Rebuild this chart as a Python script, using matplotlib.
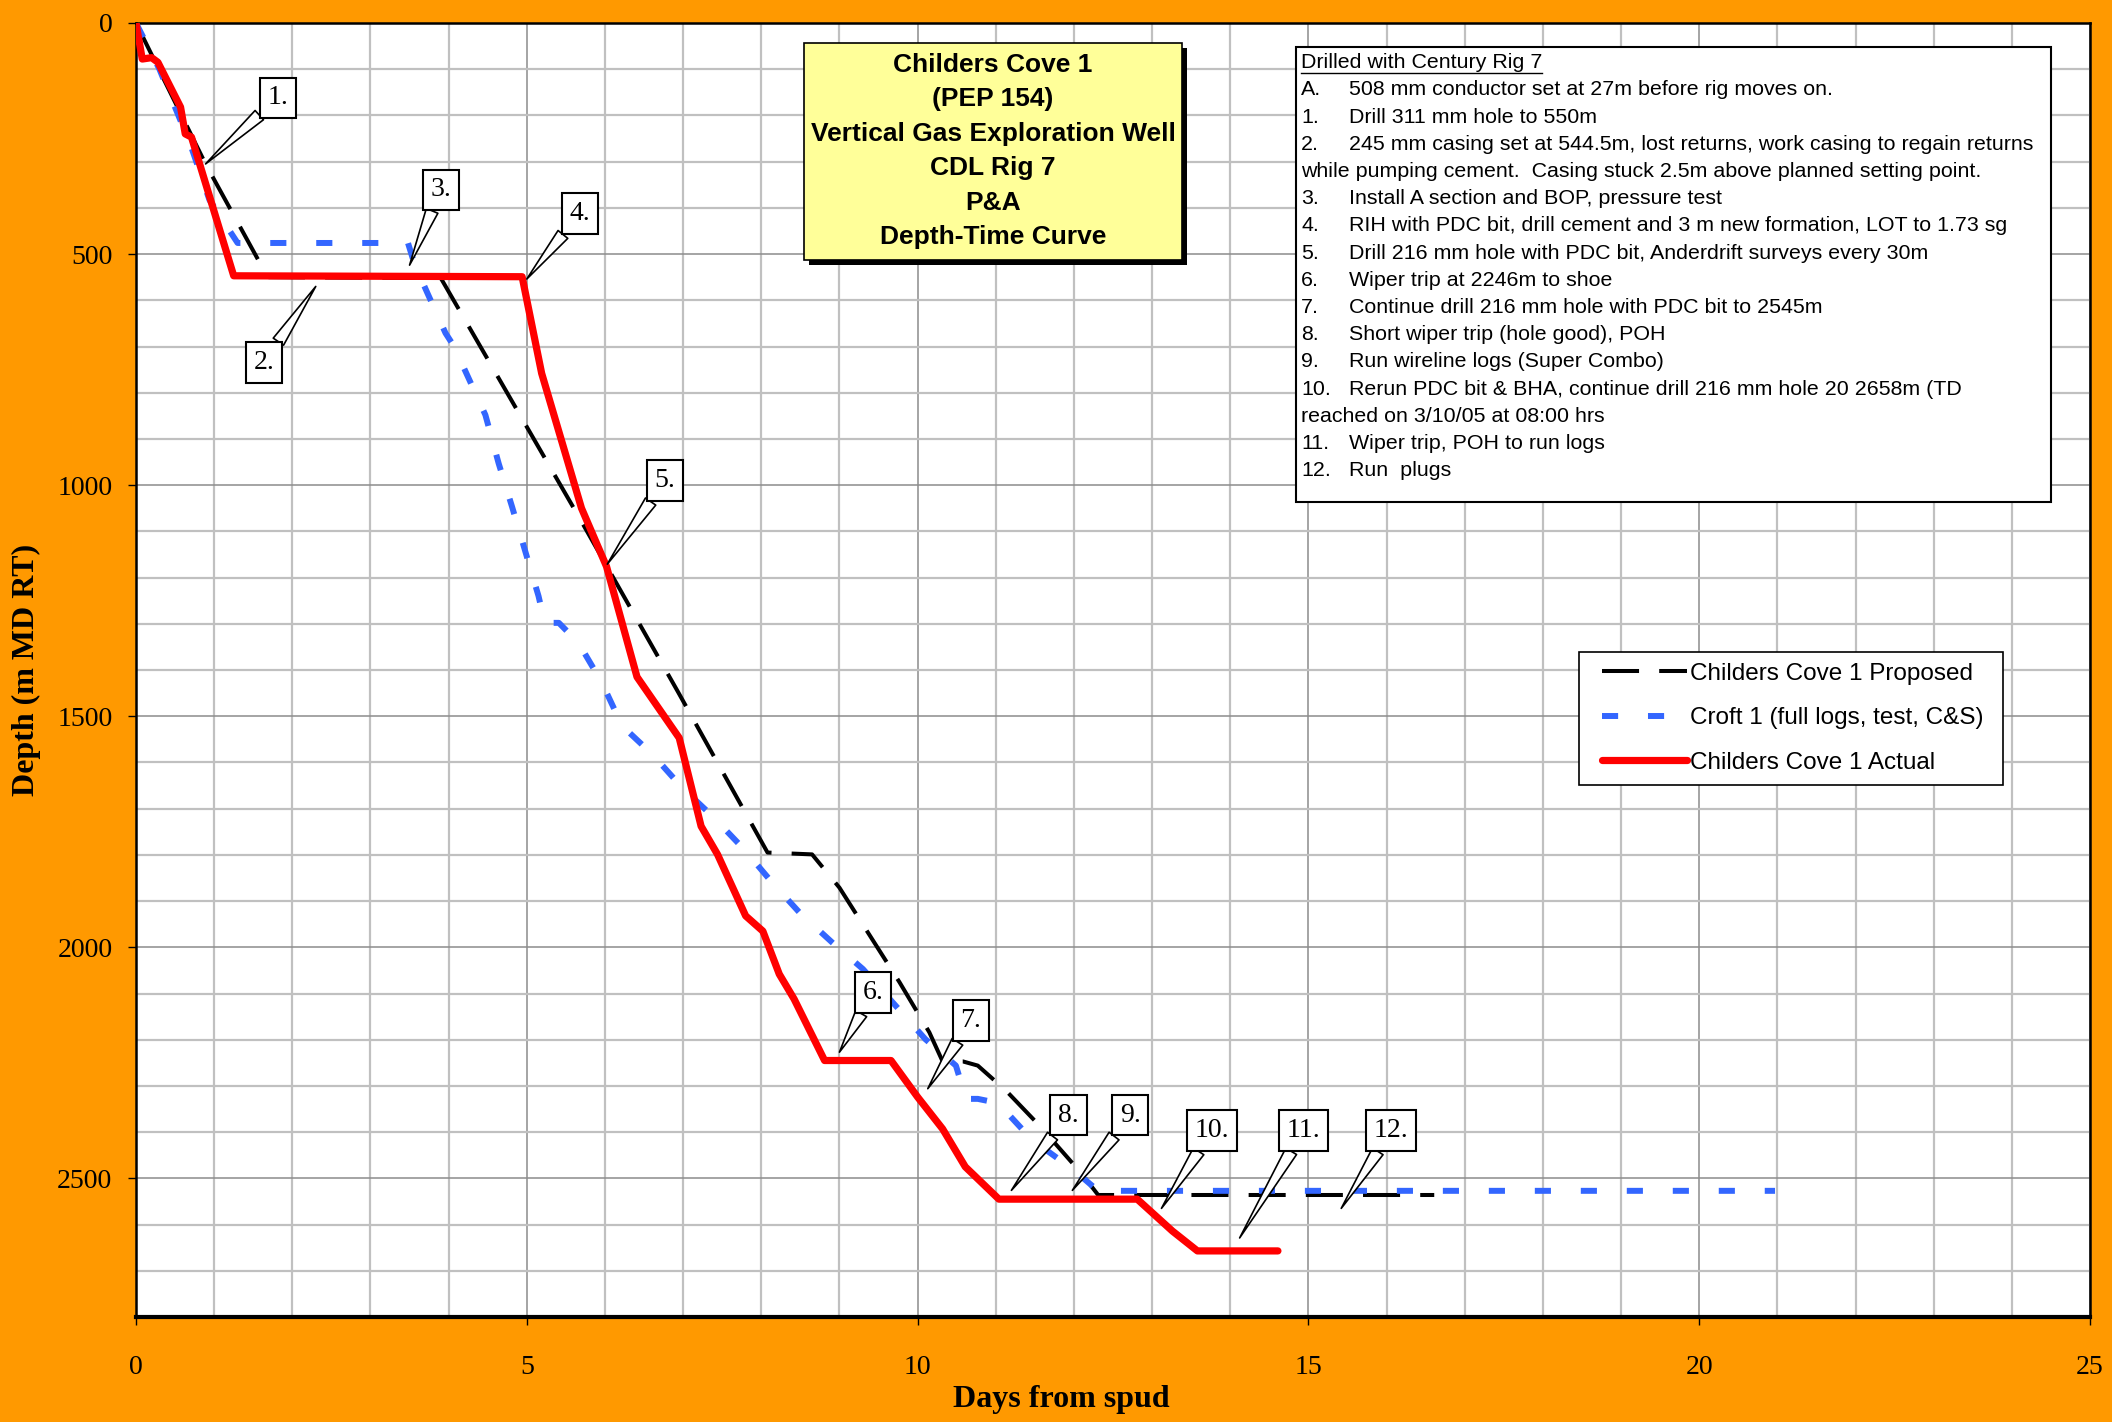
import matplotlib
matplotlib.use("Agg")
import matplotlib.pyplot as plt
from matplotlib.ticker import MultipleLocator
from matplotlib.patches import Rectangle
from matplotlib.lines import Line2D
from matplotlib.legend_handler import HandlerLine2D
from matplotlib import font_manager

# --- data ---
days_proposed = [0.0, 0.89, 1.62, 1.70, 3.90, 5.66, 6.94, 8.08, 8.65, 9.00, 9.77, 10.15,
                 10.32, 10.58, 10.77, 11.13, 11.56, 12.09, 12.31, 16.61]
depth_proposed = [0, 305, 530, 550, 552, 1067, 1449, 1795, 1799, 1871, 2076, 2184,
                  2247, 2247, 2256, 2310, 2386, 2488, 2536, 2536]

days_croft = [0.0, 0.30, 0.70, 0.94, 1.30, 3.48, 3.56, 3.73, 3.96, 4.07, 4.47, 4.64, 4.81,
              4.98, 5.15, 5.23, 5.41, 5.66, 5.96, 6.22, 6.61, 6.99, 7.38, 7.78, 8.14, 8.49,
              8.91, 9.30, 9.68, 10.10, 10.49, 10.62, 10.77, 11.03, 11.46, 11.99, 12.31, 20.97]
depth_croft = [0, 100, 265, 383, 476, 476, 520, 585, 671, 700, 848, 953, 1046,
               1143, 1240, 1298, 1298, 1341, 1427, 1521, 1583, 1655, 1717, 1788, 1860, 1925,
               1990, 2047, 2119, 2199, 2256, 2328, 2328, 2337, 2416, 2481, 2527, 2527]

days_actual = [0.0, 0.08, 0.20, 0.28, 0.57, 0.63, 0.71, 1.25, 4.94, 5.19, 5.70, 6.02, 6.41,
               6.95, 7.23, 7.44, 7.80, 8.02, 8.23, 8.42, 8.81, 9.66, 10.00, 10.32, 10.61,
               11.04, 12.81, 13.26, 13.58, 14.61]
depth_actual = [0, 78, 75, 85, 182, 240, 247, 547, 549, 758, 1050, 1176, 1415,
                1547, 1738, 1799, 1932, 1965, 2058, 2112, 2245, 2245, 2324, 2393, 2475,
                2545, 2545, 2614, 2657, 2657]

series_labels = ["Childers Cove 1 Proposed", "Croft 1 (full logs, test, C&S)",
                 "Childers Cove 1 Actual"]

# callouts: event point and label box centre (days, depth)
callout_labels = ["1.", "2.", "3.", "4.", "5.", "6.", "7.", "8.", "9.", "10.", "11.", "12."]
callout_day = [0.89, 2.30, 3.50, 5.00, 6.03, 9.00, 10.13, 11.20, 11.98, 13.12, 14.12, 15.42]
callout_depth = [305, 570, 524, 554, 1171, 2227, 2306, 2526, 2526, 2565, 2629, 2565]
box_day = [1.82, 1.64, 3.90, 5.68, 6.77, 9.43, 10.68, 11.93, 12.72, 13.77, 14.94, 16.06]
box_depth = [162, 735, 361, 412, 990, 2098, 2159, 2363, 2363, 2396, 2396, 2396]

title_lines = ["Childers Cove 1", "(PEP 154)", "Vertical Gas Exploration Well",
               "CDL Rig 7", "P&A", "Depth-Time Curve"]

notes_header = "Drilled with Century Rig 7"
notes_lines = [
    ("A.", "508 mm conductor set at 27m before rig moves on."),
    ("1.", "Drill 311 mm hole to 550m"),
    ("2.", "245 mm casing set at 544.5m, lost returns, work casing to regain returns"),
    ("", "while pumping cement.  Casing stuck 2.5m above planned setting point."),
    ("3.", "Install A section and BOP, pressure test"),
    ("4.", "RIH with PDC bit, drill cement and 3 m new formation, LOT to 1.73 sg"),
    ("5.", "Drill 216 mm hole with PDC bit, Anderdrift surveys every 30m"),
    ("6.", "Wiper trip at 2246m to shoe"),
    ("7.", "Continue drill 216 mm hole with PDC bit to 2545m"),
    ("8.", "Short wiper trip (hole good), POH"),
    ("9.", "Run wireline logs (Super Combo)"),
    ("10.", "Rerun PDC bit & BHA, continue drill 216 mm hole 20 2658m (TD"),
    ("", "reached on 3/10/05 at 08:00 hrs"),
    ("11.", "Wiper trip, POH to run logs"),
    ("12.", "Run  plugs"),
]

# --- figure ---
W, H = 2112, 1422
plt.rcParams['font.family'] = ['Liberation Serif', 'DejaVu Serif']

def fx(px):
    return px / W

def fy(py):
    return 1 - py / H

fig = plt.figure(figsize=(W / 100, H / 100), dpi=100, facecolor='#FF9900')
ax = fig.add_axes([fx(136), fy(1317), fx(2090) - fx(136), fy(23) - fy(1317)])
ax.set_facecolor('white')

ax.plot(days_proposed, depth_proposed, color='black', lw=2.9, dashes=(9.2, 5.0),
        label=series_labels[0], zorder=3)
ax.plot(days_croft, depth_croft, color='#3366FF', lw=4.3, dashes=(2.7, 5.0),
        label=series_labels[1], zorder=3)
ax.plot(days_actual, depth_actual, color='#FF0000', lw=5.2, solid_capstyle='round',
        solid_joinstyle='round', label=series_labels[2], zorder=4)

ax.set_xlim(0, 25)
ax.set_ylim(2800, 0)
ax.xaxis.set_major_locator(MultipleLocator(5))
ax.xaxis.set_minor_locator(MultipleLocator(1))
ax.yaxis.set_major_locator(MultipleLocator(500))
ax.yaxis.set_minor_locator(MultipleLocator(100))
ax.grid(which='minor', color='#C0C0C0', lw=1.6, zorder=0)
ax.grid(which='major', color='#8C8C8C', lw=1.1, zorder=0)
ax.set_axisbelow(True)
ax.tick_params(which='minor', length=0)
ax.tick_params(which='major', length=6, width=1, direction='out', labelsize=20)
ax.tick_params(axis='x', pad=21)
ax.tick_params(axis='y', pad=11)
for sp in ax.spines.values():
    sp.set_color('black')
    sp.set_linewidth(1.8)
ax.spines['bottom'].set_linewidth(3)

ax.set_xlabel('Days from spud', fontsize=23, fontweight='bold')
ax.xaxis.set_label_coords(0.4734, -0.0526)
ax.set_ylabel('Depth (m MD RT)', fontsize=23, fontweight='bold')
ax.yaxis.set_label_coords(-0.0487, 0.5)

# callouts
for lab, d, z, bd, bz in zip(callout_labels, callout_day, callout_depth, box_day, box_depth):
    ax.annotate(lab, xy=(d, z), xytext=(bd, bz), ha='center', va='center', fontsize=20,
                bbox=dict(boxstyle='square,pad=0.28', fc='white', ec='black', lw=1.5),
                arrowprops=dict(arrowstyle='wedge,tail_width=0.45,shrink_factor=0.5',
                                fc='white', ec='black', lw=1.2, shrinkA=0, shrinkB=0),
                zorder=6)

# legend
leg = ax.legend(loc='upper left',
                bbox_to_anchor=(fx(1579), fy(784), fx(2003) - fx(1579), fy(652) - fy(784)),
                bbox_transform=fig.transFigure, mode='expand',
                prop={'family': 'Liberation Sans', 'size': 17.5},
                fancybox=False, framealpha=1, edgecolor='black',
                handlelength=3.99, handletextpad=0.12, borderpad=0.45,
                labelspacing=0.92, borderaxespad=0,
                handler_map={Line2D: HandlerLine2D(xpad=0.5)})
leg.get_frame().set_linewidth(1.2)
leg.set_zorder(7)

# title box with shadow
fig.add_artist(Rectangle((fx(809), fy(265)), fx(1187) - fx(809), fy(48) - fy(265),
                         transform=fig.transFigure, fc='black', ec='none', zorder=8))
fig.add_artist(Rectangle((fx(804), fy(260)), fx(1182) - fx(804), fy(43) - fy(260),
                         transform=fig.transFigure, fc='#FFFF99', ec='black', lw=1.2, zorder=9))
for i, line in enumerate(title_lines):
    fig.text(fx(993), fy(65 + i * 34.4), line, ha='center', va='center', fontsize=19,
             fontweight='bold', family='Liberation Sans', zorder=10)

# notes box: narrow sans if present, sized so the longest line fits like the original
names = {f.name for f in font_manager.fontManager.ttflist}
note_font = 'Liberation Sans Narrow' if 'Liberation Sans Narrow' in names else 'Liberation Sans'
renderer = fig.canvas.get_renderer()
probe = fig.text(0, 0, notes_lines[2][1], fontsize=10, family=note_font)
note_size = 10 * 686 / probe.get_window_extent(renderer).width
probe.remove()

fig.add_artist(Rectangle((fx(1296), fy(502)), fx(2051) - fx(1296), fy(47) - fy(502),
                         transform=fig.transFigure, fc='white', ec='black', lw=1.5, zorder=8))
fig.text(fx(1301), fy(62.7), notes_header, ha='left', va='center', fontsize=note_size,
         family=note_font, zorder=10)
fig.add_artist(Line2D([fx(1301), fx(1542)], [fy(73), fy(73)], transform=fig.transFigure,
                      color='black', lw=1, zorder=10))
for i, (num, txt) in enumerate(notes_lines):
    y = fy(62.7 + (i + 1) * 27.2)
    if num:
        fig.text(fx(1301), y, num, ha='left', va='center', fontsize=note_size,
                 family=note_font, zorder=10)
        fig.text(fx(1349), y, txt, ha='left', va='center', fontsize=note_size,
                 family=note_font, zorder=10)
    else:
        fig.text(fx(1301), y, txt, ha='left', va='center', fontsize=note_size,
                 family=note_font, zorder=10)

fig.savefig('out.png', dpi=100, facecolor=fig.get_facecolor())
